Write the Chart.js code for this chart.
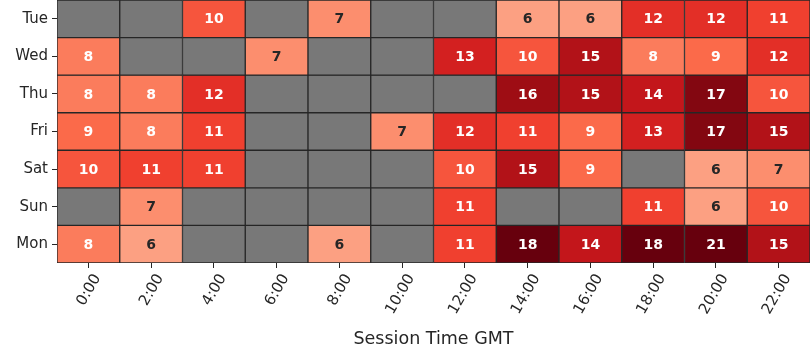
<!DOCTYPE html>
<html>
<head>
<meta charset="utf-8">
<script src="https://cdn.jsdelivr.net/npm/chart.js@4"></script>
<style>
  html, body { margin:0; padding:0; background:#fff; }
  #wrap { width:810px; height:360px; }
</style>
</head>
<body>
<div id="wrap"><canvas id="heat"></canvas></div>
<script>
// Data
const hours = ['0:00','2:00','4:00','6:00','8:00','10:00','12:00','14:00','16:00','18:00','20:00','22:00'];
const days = ['Tue','Wed','Thu','Fri','Sat','Sun','Mon'];
// null = no sessions (grey cell)
const tue = [null, null, 10, null, 7, null, null, 6, 6, 12, 12, 11];
const wed = [8, null, null, 7, null, null, 13, 10, 15, 8, 9, 12];
const thu = [8, 8, 12, null, null, null, null, 16, 15, 14, 17, 10];
const fri = [9, 8, 11, null, null, 7, 12, 11, 9, 13, 17, 15];
const sat = [10, 11, 11, null, null, null, 10, 15, 9, null, 6, 7];
const sun = [null, 7, null, null, null, null, 11, null, null, 11, 6, 10];
const mon = [8, 6, null, null, 6, null, 11, 18, 14, 18, 21, 15];
const rows = [tue, wed, thu, fri, sat, sun, mon];

const vmin = 0, vmax = 18;

// Reds colormap anchors
const REDS = ['#fff5f0','#fee0d2','#fcbba1','#fc9272','#fb6a4a','#ef3b2c','#cb181d','#a50f15','#67000d'];
function hex2rgb(h){ return [parseInt(h.slice(1,3),16), parseInt(h.slice(3,5),16), parseInt(h.slice(5,7),16)]; }
function reds(v){
  let t = (v - vmin) / (vmax - vmin);
  t = Math.max(0, Math.min(1, t));
  const p = t * (REDS.length - 1);
  const i = Math.min(REDS.length - 2, Math.floor(p));
  const f = p - i;
  const a = hex2rgb(REDS[i]), b = hex2rgb(REDS[i+1]);
  const c = a.map((x,k)=>Math.round(x + (b[k]-x)*f));
  return `rgb(${c[0]},${c[1]},${c[2]})`;
}
function cellColor(v){ return v == null ? '#787878' : reds(v); }
function textColor(v){ return v <= 7 ? '#262626' : '#ffffff'; }

const FONT = "'DejaVu Sans', sans-serif";

const datasets = rows.map((vals, r)=>({
  label: days[r],
  data: vals.map(()=>[r - 0.5, r + 0.5]),
  values: vals,
  backgroundColor: vals.map(cellColor),
  borderColor: '#262626',
  borderWidth: 1,
  borderSkipped: false,
  grouped: false,
  barPercentage: 1,
  categoryPercentage: 1
}));

// annotate cells
const annotate = {
  id: 'annotate',
  afterDatasetsDraw(chart){
    const ctx = chart.ctx;
    ctx.save();
    ctx.font = `bold 14px ${FONT}`;
    ctx.textAlign = 'center';
    ctx.textBaseline = 'middle';
    chart.data.datasets.forEach((ds, di)=>{
      const meta = chart.getDatasetMeta(di);
      meta.data.forEach((el, i)=>{
        const v = ds.values[i];
        if(v == null) return;
        ctx.fillStyle = textColor(v);
        ctx.fillText(String(v), el.x, (el.y + el.base)/2 + 1);
      });
    });
    ctx.restore();
  }
};

new Chart(document.getElementById('heat'), {
  type: 'bar',
  data: { labels: hours, datasets },
  plugins: [annotate],
  options: {
    responsive: true,
    maintainAspectRatio: false,
    animation: false,
    layout: { padding: 0 },
    plugins: { legend: { display: false }, tooltip: { enabled: false } },
    scales: {
      x: {
        type: 'category',
        offset: true,
        grid: { display: true, offset: false, drawOnChartArea: false, drawTicks: true, tickLength: 5, tickColor: '#262626' },
        border: { display: false },
        ticks: { color: '#262626', font: { family: FONT, size: 15 }, minRotation: 60, maxRotation: 60, autoSkip: false, labelOffset: 9, padding: 3 },
        title: { display: true, text: 'Session Time GMT', color: '#262626', font: { family: FONT, size: 17.5 }, padding: { top: 4, bottom: 10 } },
        afterFit(scale){ scale.height = 97; scale.paddingLeft = 0; scale.paddingRight = 0; }
      },
      y: {
        type: 'linear',
        min: -0.5,
        max: 6.5,
        reverse: true,
        afterBuildTicks(scale){ scale.ticks = days.map((d,i)=>({ value: i })); },
        grid: { display: true, drawOnChartArea: false, drawTicks: true, tickLength: 5, tickColor: '#262626' },
        border: { display: false },
        ticks: { color: '#262626', font: { family: FONT, size: 15 }, padding: 4, callback: (v)=>days[v] },
        afterFit(scale){ scale.width = 57; scale.paddingTop = 0; scale.paddingBottom = 0; }
      }
    }
  }
});
</script>
</body>
</html>
